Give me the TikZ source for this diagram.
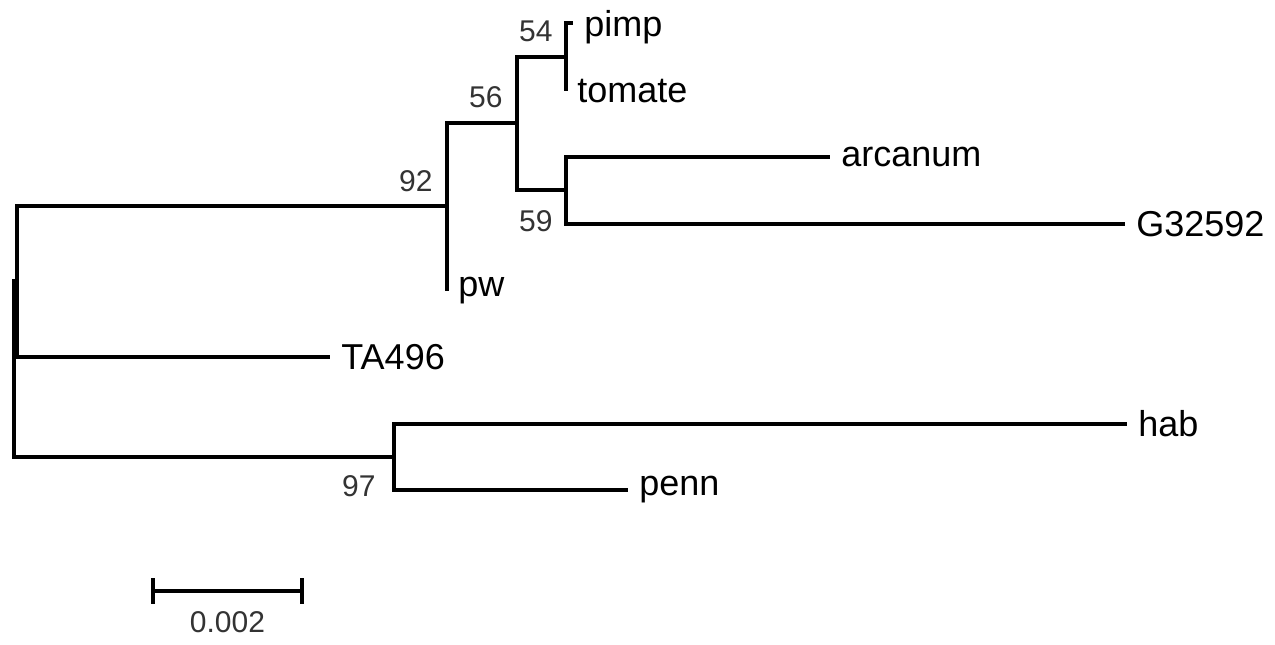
\documentclass[tikz,border=0pt]{standalone}
\usepackage{fontspec}
\setmainfont{Liberation Sans}
\usetikzlibrary{positioning}

\tikzset{
  branch/.style = {line width = 2pt},
  rootbranch/.style = {line width = 1.6pt},
  taxon/.style = {anchor = west, inner sep = 5.5pt, font = \fontsize{18}{20}\selectfont},
  boot/.style = {inner sep = 0pt, text = black!80, font = \fontsize{15}{17}\selectfont}
}

\begin{document}
\begin{tikzpicture}[x = .5pt, y = -.5pt]
\useasboundingbox (0, 0) rectangle (1275, 644);

% internal nodes
\coordinate (root) at (14, 369);
\coordinate (nA) at (17, 281);
\coordinate (n92) at (447, 206);
\coordinate (n56) at (517, 123);
\coordinate (n54) at (566, 57);
\coordinate (n59) at (566, 190);
\coordinate (n97) at (394, 457);

% tips
\coordinate (tpimp) at (573, 23);
\coordinate (ttomate) at (566, 91);
\coordinate (tarcanum) at (830, 157);
\coordinate (tG) at (1125, 224);
\coordinate (tpw) at (447, 291);
\coordinate (tTA) at (330, 357);
\coordinate (thab) at (1127, 424);
\coordinate (tpenn) at (628, 490);

% branches
\draw [rootbranch] (root) |- (nA);
\draw [rootbranch] (root) |- (n97);
\draw [branch] (nA) |- (n92);
\draw [branch] (nA) |- (tTA);
\draw [branch] (n92) |- (n56);
\draw [branch] (n92) -- (tpw);
\draw [branch] (n56) |- (n54);
\draw [branch] (n56) |- (n59);
\draw [branch] (n54) |- (tpimp);
\draw [branch] (n54) -- (ttomate);
\draw [branch] (n59) |- (tarcanum);
\draw [branch] (n59) |- (tG);
\draw [branch] (n97) |- (thab);
\draw [branch] (n97) |- (tpenn);

% taxa
\node [taxon, yshift = -2pt] (pimp) at (tpimp) {pimp};
\node [taxon] (tomate) at (ttomate) {tomate};
\node [taxon] (arcanum) at (tarcanum) {arcanum};
\node [taxon] (G32592) at (tG) {G32592};
\node [taxon] (pw) at (tpw) {pw};
\node [taxon] (TA496) at (tTA) {TA496};
\node [taxon] (hab) at (thab) {hab};
\node [taxon] (penn) at (tpenn) {penn};

% bootstrap values
\node [boot, anchor = south east] (b92) at ([shift = {(-14, -14)}] n92) {92};
\node [boot, anchor = south east] (b56) at ([shift = {(-14, -15)}] n56) {56};
\node [boot, anchor = south east] (b54) at ([shift = {(-13, -15)}] n54) {54};
\node [boot, anchor = north east] (b59) at ([shift = {(-13, 20)}] n59) {59};
\node [boot, anchor = north east] (b97) at ([shift = {(-18, 18)}] n97) {97};

% scale bar
\coordinate (sL) at (153, 591);
\coordinate (sR) at (302, 591);
\draw [branch] (sL) -- (sR) node [boot, midway, below = 9.5pt] (scale) {0.002};
\draw [line width = 1.7pt] ([yshift = 6.5pt] sL) -- ([yshift = -6.5pt] sL);
\draw [line width = 1.7pt] ([yshift = 6.5pt] sR) -- ([yshift = -6.5pt] sR);
\end{tikzpicture}
\end{document}
